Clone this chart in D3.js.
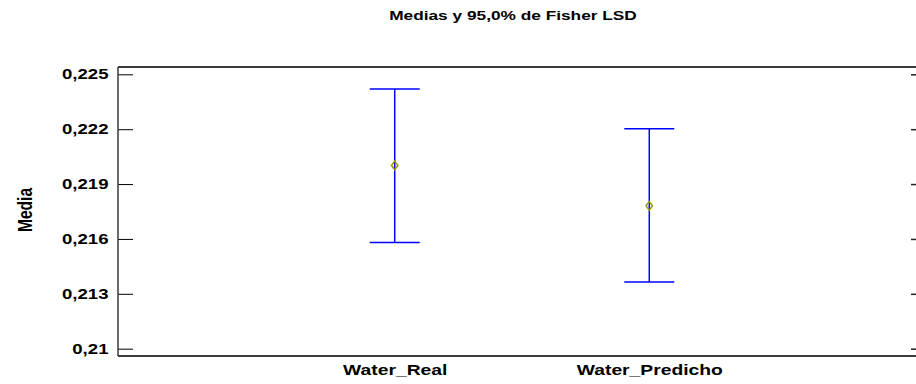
<!DOCTYPE html>
<html>
<head>
<meta charset="utf-8">
<script src="https://cdn.jsdelivr.net/npm/d3@7"></script>
<style>
  html, body { margin: 0; padding: 0; background: #fff; }
  svg { display: block; }
  text { font-family: "Liberation Sans", Arial, sans-serif; font-weight: bold; fill: #000; }
</style>
</head>
<body>
<svg id="chart" width="916" height="384"></svg>
<script>
// Groups and their 95% Fisher LSD intervals
const groups = ["Water_Real", "Water_Predicho"];
const means  = [0.22002, 0.21781];
const lower  = [0.21581, 0.21365];
const upper  = [0.22420, 0.22202];

// Y axis ticks and their printed labels (decimal comma)
const tickValues = [0.21, 0.213, 0.216, 0.219, 0.222, 0.225];
const tickLabels = ["0,21", "0,213", "0,216", "0,219", "0,222", "0,225"];

const titleText = "Medias y 95,0% de Fisher LSD";
const yTitle = "Media";

const svg = d3.select("#chart");
const plot = { left: 118, right: 926, top: 67, bottom: 356 };
const wide = 1.33; // horizontal stretch of the bold labels

const x = d3.scalePoint()
  .domain(groups)
  .range([plot.left, plot.right])
  .padding(1.087)
  .align(0.5);

const y = d3.scaleLinear()
  .domain([0.2096, 0.2254])
  .range([plot.bottom, plot.top]);

// Stretched text helper
function wideText(parent, tx, ty, str, size, anchor) {
  return parent.append("g")
    .attr("transform", `translate(${tx},${ty}) scale(${wide},1)`)
    .append("text")
    .attr("text-anchor", anchor)
    .style("font-size", size + "px")
    .text(str);
}

// Title
wideText(svg, 513, 20, titleText, 13, "middle");

// Left axis with inward ticks
const leftAxis = d3.axisLeft(y)
  .tickValues(tickValues)
  .tickSize(-15)
  .tickFormat("");
const gl = svg.append("g")
  .attr("transform", `translate(${plot.left},0)`)
  .call(leftAxis);
gl.select(".domain").remove();
gl.selectAll(".tick line").attr("stroke", "#000").attr("stroke-width", 1);

// Tick labels
const labels = svg.append("g");
tickValues.forEach((v, i) => {
  wideText(labels, 108.5, y(v) + 5, tickLabels[i], 14, "end");
});

// Right axis, ticks only
const rightAxis = d3.axisRight(y)
  .tickValues(tickValues)
  .tickSize(-15)
  .tickFormat("");
const gr = svg.append("g")
  .attr("transform", `translate(${plot.right},0)`)
  .call(rightAxis);
gr.select(".domain").remove();
gr.selectAll(".tick line").attr("stroke", "#222").attr("stroke-width", 1.5);

// Frame
svg.append("line")
  .attr("x1", plot.left).attr("x2", plot.right)
  .attr("y1", plot.top).attr("y2", plot.top)
  .attr("stroke", "#3a3a3a").attr("stroke-width", 2);
svg.append("line")
  .attr("x1", plot.left).attr("x2", plot.right)
  .attr("y1", plot.bottom).attr("y2", plot.bottom)
  .attr("stroke", "#3a3a3a").attr("stroke-width", 2);
svg.append("line")
  .attr("x1", plot.left).attr("x2", plot.left)
  .attr("y1", plot.top).attr("y2", plot.bottom)
  .attr("stroke", "#3a3a3a").attr("stroke-width", 1.5);

// Category labels
const cats = svg.append("g");
groups.forEach(g => wideText(cats, x(g) + 0.5, 375, g, 14.5, "middle"));

// Y axis title (condensed, rotated)
svg.append("g")
  .attr("transform", `translate(31.5,${(plot.top + plot.bottom) / 2 - 1.5}) rotate(-90) scale(0.78,1)`)
  .append("text")
  .attr("text-anchor", "middle")
  .style("font-size", "20px")
  .text(yTitle);

// Interval bars
const capHalf = 25;
const bars = svg.append("g");
groups.forEach((g, i) => {
  const cx = x(g);
  bars.append("line")
    .attr("x1", cx).attr("x2", cx)
    .attr("y1", y(upper[i])).attr("y2", y(lower[i]))
    .attr("stroke", "#0000ff").attr("stroke-width", 1.5);
  [upper[i], lower[i]].forEach(v => {
    bars.append("line")
      .attr("x1", cx - capHalf).attr("x2", cx + capHalf)
      .attr("y1", y(v)).attr("y2", y(v))
      .attr("stroke", "#0000ff").attr("stroke-width", 1.5);
  });
});

// Mean markers
svg.append("g").selectAll("path")
  .data(groups)
  .join("path")
  .attr("transform", (d, i) => `translate(${x(d)},${y(means[i])}) scale(1.3,1)`)
  .attr("d", d3.symbol().type(d3.symbolDiamond).size(22))
  .attr("fill", "none")
  .attr("stroke", "#9a9a00")
  .attr("stroke-width", 1.2);
</script>
</body>
</html>
